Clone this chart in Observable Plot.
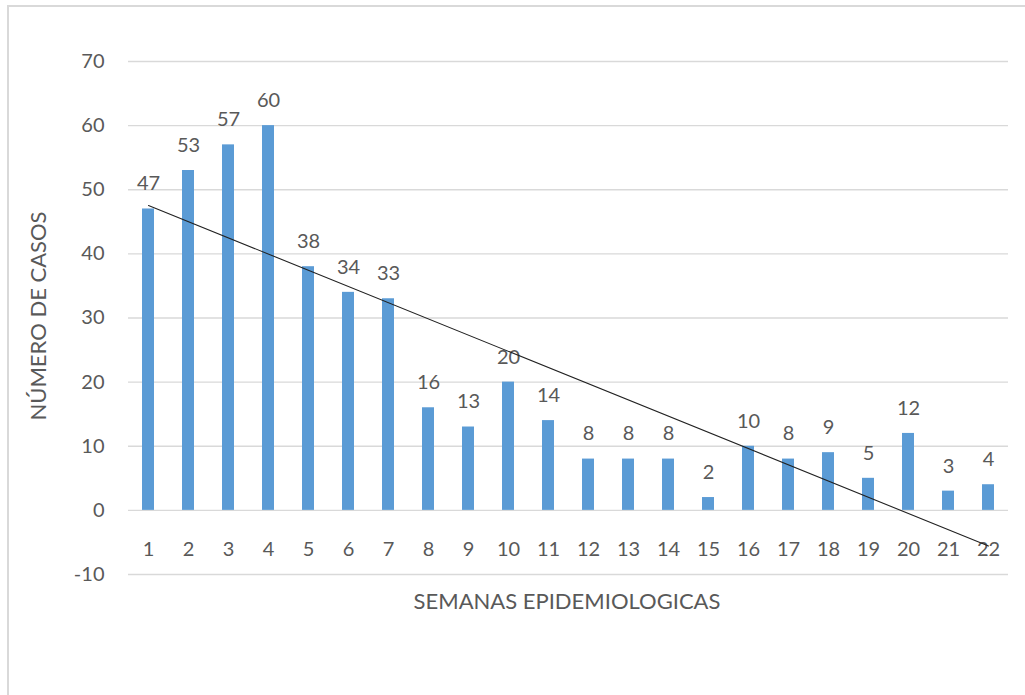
<!DOCTYPE html>
<html>
<head>
<meta charset="utf-8">
<script src="https://cdn.jsdelivr.net/npm/d3@7"></script>
<script src="https://cdn.jsdelivr.net/npm/@observablehq/plot@0.6"></script>
<style>
  html, body { margin: 0; padding: 0; background: #fff; }
  #wrap { position: relative; width: 1025px; height: 695px; overflow: hidden; }
  #border { position: absolute; left: 7px; top: 5px; width: 1040px; height: 720px; border: 2px solid #d9d9d9; box-sizing: border-box; pointer-events: none; }
  #chart { position: absolute; left: 0; top: 0; }
</style>
</head>
<body>
<div id="wrap"><div id="border"></div><div id="chart"></div></div>
<script>
const weeks = [1,2,3,4,5,6,7,8,9,10,11,12,13,14,15,16,17,18,19,20,21,22];
const cases = [47,53,57,60,38,34,33,16,13,20,14,8,8,8,2,10,8,9,5,12,3,4];
const yTicks = [-10,0,10,20,30,40,50,60,70];
const xTitle = "SEMANAS EPIDEMIOLOGICAS";
const yTitle = "NÚMERO DE CASOS";

const data = weeks.map((w, i) => ({week: w, cases: cases[i]}));

// linear trend (least squares) computed from the data
const n = weeks.length;
const mx = d3.mean(weeks), my = d3.mean(cases);
const sxy = d3.sum(weeks, (w, i) => (w - mx) * (cases[i] - my));
const sxx = d3.sum(weeks, w => (w - mx) ** 2);
const slope = sxy / sxx, intercept = my - slope * mx;
const trend = [weeks[0], weeks[n - 1]].map(w => ({week: w, y: intercept + slope * w}));

const font = "Lato, 'Open Sans', sans-serif";
const txt = "#595959";
const fs = 20;

const chart = Plot.plot({
  width: 1025,
  height: 695,
  marginLeft: 128,
  marginRight: 17,
  marginTop: 61,
  marginBottom: 121,
  style: {fontFamily: font, fontSize: fs + "px", color: txt, background: "transparent"},
  x: {type: "band", domain: weeks, paddingInner: 0.7, paddingOuter: 0.35, align: 0.5, axis: null},
  y: {domain: [-10, 70], axis: null},
  marks: [
    Plot.ruleY(yTicks, {stroke: "#d9d9d9", strokeWidth: 1.3}),
    Plot.axisY({ticks: yTicks, tickSize: 0, tickPadding: 24, fontSize: fs, fill: txt, label: null, tickFormat: d => String(d)}),
    Plot.barY(data, {x: "week", y: "cases", fill: "#5b9bd5"}),
    Plot.text(data, {x: "week", y: "cases", text: d => String(d.cases), dy: -25, fontSize: fs, fill: txt}),
    Plot.text(weeks, {x: d => d, y: () => 0, text: d => String(d), dy: 39, fontSize: fs, fill: txt}),
    Plot.line(trend, {x: "week", y: "y", stroke: "#222", strokeWidth: 1.1})
  ]
});

document.getElementById("chart").appendChild(chart);

// axis titles as SVG text
const svg = d3.select(chart);
svg.append("text")
  .attr("x", 567).attr("y", 603)
  .attr("text-anchor", "middle").attr("dominant-baseline", "middle")
  .attr("fill", txt).style("font-size", "22px").style("font-family", font)
  .text(xTitle);
svg.append("text")
  .attr("transform", "translate(40,316) rotate(-90)")
  .attr("text-anchor", "middle").attr("dominant-baseline", "middle")
  .attr("fill", txt).style("font-size", "22px").style("font-family", font)
  .text(yTitle);
</script>
</body>
</html>
